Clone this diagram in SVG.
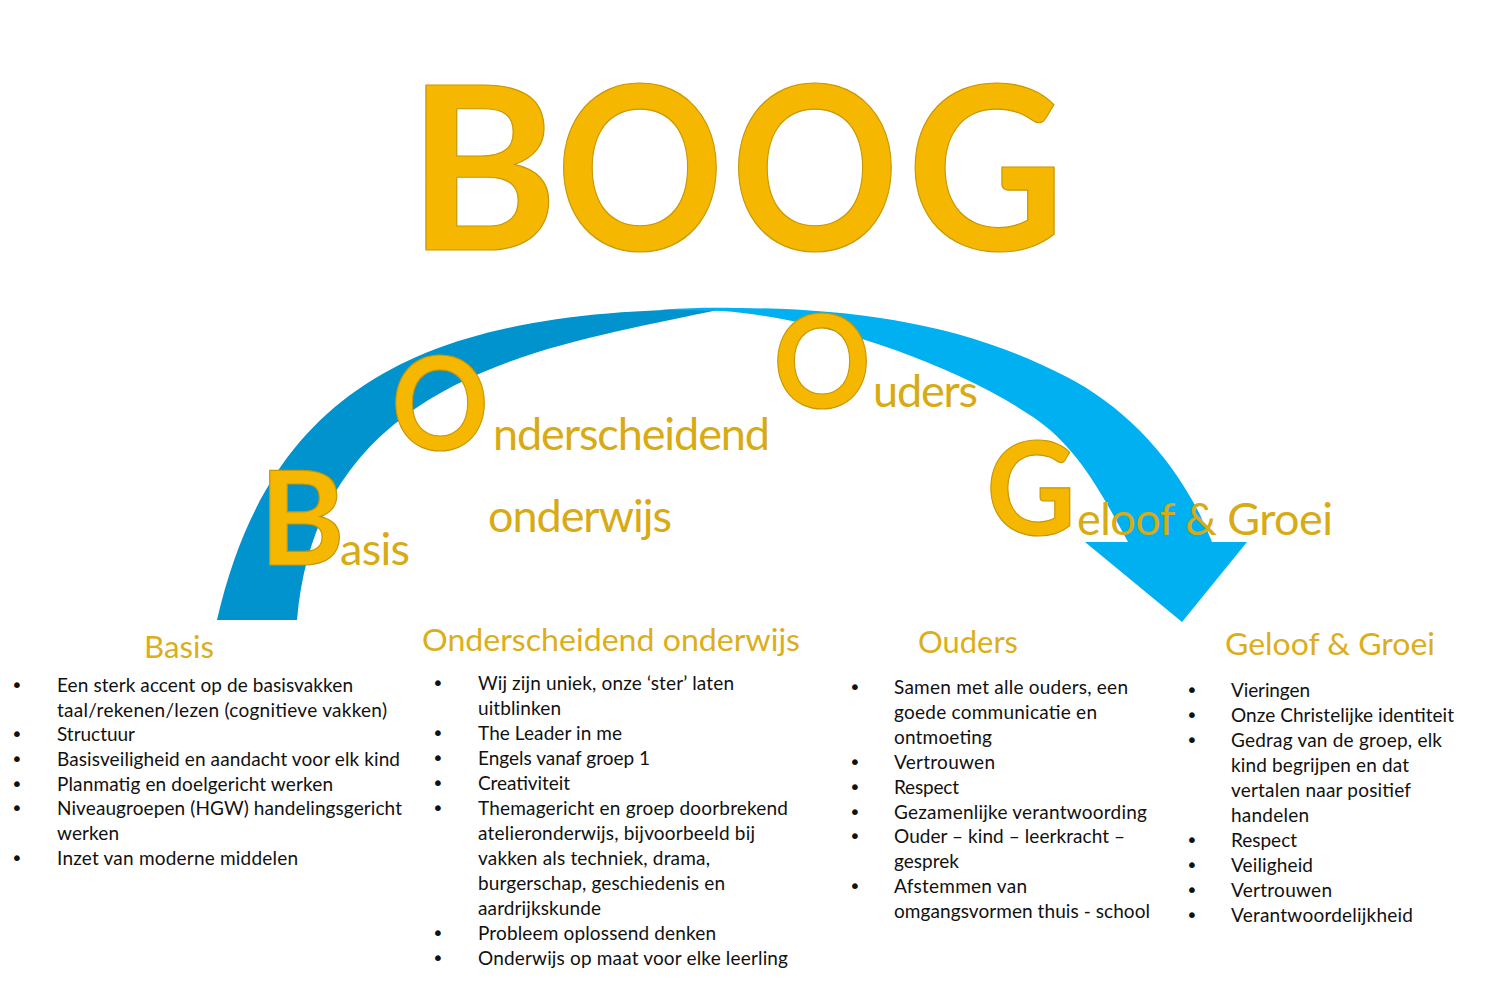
<svg xmlns="http://www.w3.org/2000/svg" width="1500" height="984" viewBox="0 0 1500 984">
<style>
.big{font-family:Lato,"Open Sans","Liberation Sans",sans-serif;font-weight:bold;fill:#F5B700;stroke:#C99700;stroke-width:1.2;text-anchor:middle}
.word{font-family:Lato,"Open Sans","Liberation Sans",sans-serif;font-size:45px;fill:#D8AA14}
.head{font-family:Lato,"Open Sans","Liberation Sans",sans-serif;font-size:31px;fill:#DCAE1A}
.body{font-family:Lato,"Open Sans","Liberation Sans",sans-serif;font-size:19px;fill:#111}
.bul{font-family:"DejaVu Sans","Liberation Sans",sans-serif;font-size:20px;fill:#111;text-anchor:middle}
</style>
<rect width="1500" height="984" fill="#fff"/>
<g id="connectors">
<path id="arc-back" d="M217,620 C273,375 440,309 722,309 C560,345 318,370 297,620 Z" fill="#0093CD"/>
<path id="arc-front" d="M660,310 C700,307 720,308 740,308 C860,309 967,325 1067,377 C1127,408 1182,465 1212,542 L1247,542 L1182,622 L1085,542 L1128,542 C1103,496 1078,447 1033,417 C953,363 820,318 722,311 C700,310 680,310 660,310 Z" fill="#00B0F0"/>
</g>
<g id="title">
<text class="big" font-size="229" x="483" y="250">B</text>
<text class="big" font-size="229" transform="translate(640,0) scale(0.91,1)" x="0" y="250">O</text>
<text class="big" font-size="229" transform="translate(815,0) scale(0.91,1)" x="0" y="250">O</text>
<text class="big" font-size="229" transform="translate(986,0) scale(0.95,1)" x="0" y="250">G</text>
</g>
<g id="node-basis">
<text class="big" font-size="130" x="302" y="565">B</text>
<text class="word" x="340" y="565" textLength="70">asis</text>
</g>
<g id="node-onderscheidend">
<text class="big" font-size="130" transform="translate(440,0) scale(0.93,1)" x="0" y="450">O</text>
<text class="word" x="493" y="450" textLength="277">nderscheidend</text>
<text class="word" x="488" y="532" textLength="184">onderwijs</text>
</g>
<g id="node-ouders">
<text class="big" font-size="130" transform="translate(822,0) scale(0.93,1)" x="0" y="408">O</text>
<text class="word" x="873" y="407" textLength="105">uders</text>
</g>
<g id="node-geloof">
<text class="big" font-size="130" transform="translate(1031,0) scale(0.95,1)" x="0" y="535">G</text>
<text class="word" x="1077" y="535" textLength="256">eloof &amp; Groei</text>
</g>
<g id="col-basis">
<text class="head" x="144" y="658" textLength="70" lengthAdjust="spacingAndGlyphs">Basis</text>
<text class="bul" x="17" y="692">•</text>
<text class="body" x="57" y="692" textLength="296">Een sterk accent op de basisvakken</text>
<text class="body" x="57" y="717" textLength="330">taal/rekenen/lezen (cognitieve vakken)</text>
<text class="bul" x="17" y="741">•</text>
<text class="body" x="57" y="741" textLength="78">Structuur</text>
<text class="bul" x="17" y="766">•</text>
<text class="body" x="57" y="766" textLength="343">Basisveiligheid en aandacht voor elk kind</text>
<text class="bul" x="17" y="791">•</text>
<text class="body" x="57" y="791" textLength="276">Planmatig en doelgericht werken</text>
<text class="bul" x="17" y="815">•</text>
<text class="body" x="57" y="815" textLength="345">Niveaugroepen (HGW) handelingsgericht</text>
<text class="body" x="57" y="840" textLength="62">werken</text>
<text class="bul" x="17" y="865">•</text>
<text class="body" x="57" y="865" textLength="241">Inzet van moderne middelen</text>
</g>
<g id="col-onderscheidend">
<text class="head" x="422" y="651" textLength="378" lengthAdjust="spacingAndGlyphs">Onderscheidend onderwijs</text>
<text class="bul" x="438" y="690">•</text>
<text class="body" x="478" y="690" textLength="256">Wij zijn uniek, onze ‘ster’ laten</text>
<text class="body" x="478" y="715" textLength="83">uitblinken</text>
<text class="bul" x="438" y="740">•</text>
<text class="body" x="478" y="740" textLength="144">The Leader in me</text>
<text class="bul" x="438" y="765">•</text>
<text class="body" x="478" y="765" textLength="172">Engels vanaf groep 1</text>
<text class="bul" x="438" y="790">•</text>
<text class="body" x="478" y="790" textLength="92">Creativiteit</text>
<text class="bul" x="438" y="815">•</text>
<text class="body" x="478" y="815" textLength="310">Themagericht en groep doorbrekend</text>
<text class="body" x="478" y="840" textLength="277">atelieronderwijs, bijvoorbeeld bij</text>
<text class="body" x="478" y="865" textLength="232">vakken als techniek, drama,</text>
<text class="body" x="478" y="890" textLength="247">burgerschap, geschiedenis en</text>
<text class="body" x="478" y="915" textLength="123">aardrijkskunde</text>
<text class="bul" x="438" y="940">•</text>
<text class="body" x="478" y="940" textLength="238">Probleem oplossend denken</text>
<text class="bul" x="438" y="965">•</text>
<text class="body" x="478" y="965" textLength="310">Onderwijs op maat voor elke leerling</text>
</g>
<g id="col-ouders">
<text class="head" x="918" y="653" textLength="100" lengthAdjust="spacingAndGlyphs">Ouders</text>
<text class="bul" x="855" y="694">•</text>
<text class="body" x="894" y="694" textLength="234">Samen met alle ouders, een</text>
<text class="body" x="894" y="719" textLength="203">goede communicatie en</text>
<text class="body" x="894" y="744" textLength="98">ontmoeting</text>
<text class="bul" x="855" y="769">•</text>
<text class="body" x="894" y="769" textLength="101">Vertrouwen</text>
<text class="bul" x="855" y="794">•</text>
<text class="body" x="894" y="794" textLength="65">Respect</text>
<text class="bul" x="855" y="819">•</text>
<text class="body" x="894" y="819" textLength="253">Gezamenlijke verantwoording</text>
<text class="bul" x="855" y="843">•</text>
<text class="body" x="894" y="843" textLength="231">Ouder – kind – leerkracht –</text>
<text class="body" x="894" y="868" textLength="65">gesprek</text>
<text class="bul" x="855" y="893">•</text>
<text class="body" x="894" y="893" textLength="133">Afstemmen van</text>
<text class="body" x="894" y="918" textLength="256">omgangsvormen thuis - school</text>
</g>
<g id="col-geloof">
<text class="head" x="1225" y="655" textLength="210" lengthAdjust="spacingAndGlyphs">Geloof &amp; Groei</text>
<text class="bul" x="1192" y="697">•</text>
<text class="body" x="1231" y="697" textLength="79">Vieringen</text>
<text class="bul" x="1192" y="722">•</text>
<text class="body" x="1231" y="722" textLength="223">Onze Christelijke identiteit</text>
<text class="bul" x="1192" y="747">•</text>
<text class="body" x="1231" y="747" textLength="211">Gedrag van de groep, elk</text>
<text class="body" x="1231" y="772" textLength="178">kind begrijpen en dat</text>
<text class="body" x="1231" y="797" textLength="180">vertalen naar positief</text>
<text class="body" x="1231" y="822" textLength="78">handelen</text>
<text class="bul" x="1192" y="847">•</text>
<text class="body" x="1231" y="847" textLength="66">Respect</text>
<text class="bul" x="1192" y="872">•</text>
<text class="body" x="1231" y="872" textLength="82">Veiligheid</text>
<text class="bul" x="1192" y="897">•</text>
<text class="body" x="1231" y="897" textLength="101">Vertrouwen</text>
<text class="bul" x="1192" y="922">•</text>
<text class="body" x="1231" y="922" textLength="182">Verantwoordelijkheid</text>
</g>
</svg>
